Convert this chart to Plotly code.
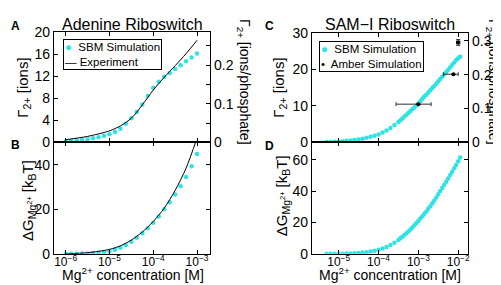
import plotly.graph_objects as go

# ---------------- data ----------------
# Panel A/B (Adenine riboswitch)
adenine_log_conc = [-6.0, -5.875, -5.75, -5.625, -5.5, -5.375, -5.25, -5.125, -5.0, -4.875,
                    -4.75, -4.625, -4.5, -4.375, -4.25, -4.125, -4.0, -3.875, -3.75, -3.625,
                    -3.5, -3.375, -3.25, -3.125, -3.0]
adenine_sbm_ions = [0.2, 0.25, 0.35, 0.45, 0.6, 0.75, 0.95, 1.2, 1.5, 1.9,
                    2.5, 3.4, 4.4, 5.5, 6.9, 8.4, 9.9, 11.0, 11.9, 12.6,
                    13.3, 14.0, 14.7, 15.4, 16.1]
adenine_sbm_dG = [0.0, 0.03, 0.07, 0.12, 0.2, 0.35, 0.5, 0.8, 1.2, 1.8,
                  2.7, 3.9, 5.4, 7.2, 9.2, 11.5, 14.0, 16.8, 20.0, 23.2,
                  26.6, 30.3, 34.5, 39.3, 44.8]
exp_log_conc = [-6.0, -5.5, -5.0, -4.75, -4.5, -4.25, -4.0, -3.75, -3.5, -3.25, -3.0]
exp_ions = [0.5, 1.1, 2.1, 3.0, 4.4, 6.8, 9.5, 11.8, 13.9, 16.1, 18.5]
exp_dG = [0.0, 0.5, 2.0, 3.6, 6.2, 9.8, 14.5, 20.5, 28.5, 38.5, 52.0]
adenine_phosphates = 70

# Panel C/D (SAM-I riboswitch)
sam_log_conc = [-5.3, -5.2, -5.1, -5.0, -4.9, -4.8, -4.7, -4.6, -4.5, -4.4,
                -4.3, -4.2, -4.1, -4.0, -3.9, -3.8, -3.7, -3.6, -3.5, -3.45,
                -3.4, -3.35, -3.3, -3.25, -3.2, -3.15, -3.1, -3.05, -3.0, -2.95,
                -2.9, -2.85, -2.8, -2.75, -2.7, -2.65, -2.6, -2.55, -2.5, -2.45,
                -2.4, -2.35, -2.3, -2.25, -2.2, -2.15, -2.1, -2.05, -2.0, -1.95]
sam_sbm_ions = [0.1, 0.15, 0.2, 0.3, 0.35, 0.45, 0.55, 0.7, 0.85, 1.05,
                1.3, 1.55, 1.85, 2.2, 2.7, 3.3, 4.0, 4.8, 5.6, 6.1,
                6.6, 7.1, 7.6, 8.1, 8.6, 9.1, 9.6, 10.1, 10.6, 11.3,
                12.0, 12.6, 13.1, 13.7, 14.3, 14.9, 15.5, 16.1, 16.8, 17.4,
                18.0, 18.7, 19.3, 19.9, 20.6, 21.3, 21.9, 22.6, 23.1, 23.5]
sam_sbm_dG = [0.0, 0.02, 0.04, 0.08, 0.13, 0.2, 0.28, 0.4, 0.55, 0.8,
              1.1, 1.5, 2.0, 2.6, 3.4, 4.4, 5.6, 7.1, 8.9, 9.9,
              10.9, 12.0, 13.1, 14.3, 15.5, 16.8, 18.2, 19.6, 21.0, 22.5,
              24.0, 25.5, 27.0, 28.7, 30.4, 32.2, 34.0, 36.0, 38.0, 40.0,
              42.0, 44.0, 46.0, 48.1, 50.2, 52.4, 54.5, 56.7, 59.0, 61.5]
amber_conc = [1.0e-3, 7.6e-3, 1.0e-2]
amber_ions = [10.5, 18.7, 27.4]
amber_err_plus = [1.09e-3, 2.4e-3, 1.0e-3]
amber_err_minus = [7.25e-4, 3.3e-3, 0.9e-3]
amber_err_y = [0.0, 0.0, 0.8]
sam_phosphates = 93

adenine_ticks = [-6, -5, -4, -3]
sam_ticks = [-5, -4, -3, -2]

# ---------------- figure ----------------
W, H = 501, 285
CYAN = "#2fe3e3"
FONT = "Liberation Sans, Arial, sans-serif"


def px(x):
    return x / W


def py(y):
    return 1 - y / H


def conc(lst):
    return [10 ** v for v in lst]


def tick_text(ticks):
    return ["10<sup>\u2212%d</sup>" % (-t) for t in ticks]


fig = go.Figure()

# A
fig.add_trace(go.Scatter(x=conc(adenine_log_conc), y=adenine_sbm_ions, mode="markers",
                         marker=dict(color=CYAN, size=4.5), name="SBM Simulation",
                         xaxis="x", yaxis="y"))
fig.add_trace(go.Scatter(x=conc(exp_log_conc), y=exp_ions, mode="lines",
                         line=dict(color="black", width=1, shape="spline", smoothing=0.8),
                         name="Experiment", xaxis="x", yaxis="y"))
# B
fig.add_trace(go.Scatter(x=conc(adenine_log_conc), y=adenine_sbm_dG, mode="markers",
                         marker=dict(color=CYAN, size=4.5), name="SBM Simulation",
                         xaxis="x2", yaxis="y3"))
fig.add_trace(go.Scatter(x=conc(exp_log_conc), y=exp_dG, mode="lines",
                         line=dict(color="black", width=1, shape="spline", smoothing=0.8),
                         name="Experiment", xaxis="x2", yaxis="y3"))
# C
fig.add_trace(go.Scatter(x=conc(sam_log_conc), y=sam_sbm_ions, mode="markers",
                         marker=dict(color=CYAN, size=4.5), name="SBM Simulation",
                         xaxis="x3", yaxis="y4"))
fig.add_trace(go.Scatter(x=amber_conc, y=amber_ions, mode="markers",
                         marker=dict(color="black", size=4), name="Amber Simulation",
                         error_x=dict(type="data", symmetric=False, array=amber_err_plus,
                                      arrayminus=amber_err_minus, color="#333", thickness=1, width=2),
                         error_y=dict(type="data", array=amber_err_y, color="#333", thickness=1, width=2),
                         xaxis="x3", yaxis="y4"))
# D
fig.add_trace(go.Scatter(x=conc(sam_log_conc), y=sam_sbm_dG, mode="markers",
                         marker=dict(color=CYAN, size=4.5), name="SBM Simulation",
                         xaxis="x4", yaxis="y6"))

# secondary (invisible) traces so right axes render
fig.add_trace(go.Scatter(x=[None], y=[None], xaxis="x", yaxis="y2", showlegend=False))
fig.add_trace(go.Scatter(x=[None], y=[None], xaxis="x3", yaxis="y5", showlegend=False))

tickfont = dict(family=FONT, size=14, color="black")
xtickfont = dict(family=FONT, size=12, color="black")
common_axis = dict(showline=True, linecolor="black", linewidth=1, ticks="inside",
                   ticklen=4, tickcolor="black", showgrid=False, zeroline=False)

xA = [46, 203]
xC = [305, 462]
yTop = [17, 134]
yTopC = [18, 134]
yBot = [134, 252]

fig.update_layout(
    width=W, height=H, margin=dict(l=0, r=0, t=0, b=0),
    paper_bgcolor="white", plot_bgcolor="white", showlegend=False,
    font=dict(family=FONT, color="black"),
    xaxis=dict(**common_axis, type="log", range=[-6.27, -2.70], domain=[px(xA[0]), px(xA[1])],
               anchor="y", mirror="ticks", tickvals=conc(adenine_ticks), showticklabels=False),
    yaxis=dict(**common_axis, tickfont=tickfont, range=[0, 20], dtick=4,
               domain=[py(yTop[1]), py(yTop[0])], anchor="x"),
    yaxis2=dict(**common_axis, tickfont=tickfont, range=[0, 20 / adenine_phosphates],
                overlaying="y", side="right",
                anchor="x", tickvals=[0, 0.05, 0.1, 0.15, 0.2, 0.25],
                ticktext=["0", "", "0.1", "", "0.2", ""]),
    xaxis2=dict(**common_axis, tickfont=xtickfont, type="log", range=[-6.27, -2.70],
                domain=[px(xA[0]), px(xA[1])], ticklabelstandoff=-3,
                anchor="y3", mirror="ticks", tickvals=conc(adenine_ticks),
                ticktext=tick_text(adenine_ticks)),
    yaxis3=dict(**common_axis, tickfont=tickfont, range=[0, 50], dtick=20,
                domain=[py(yBot[1]), py(yBot[0])], anchor="x2", mirror="ticks"),
    xaxis3=dict(**common_axis, type="log", range=[-5.675, -1.75], domain=[px(xC[0]), px(xC[1])],
                anchor="y4", mirror="ticks", tickvals=conc(sam_ticks), showticklabels=False),
    yaxis4=dict(**common_axis, tickfont=tickfont, range=[0, 30], dtick=10,
                domain=[py(yTopC[1]), py(yTopC[0])], anchor="x3"),
    yaxis5=dict(**common_axis, tickfont=tickfont, range=[0, 30 / sam_phosphates],
                overlaying="y4", side="right",
                anchor="x3", tickvals=[0, 0.1, 0.2, 0.3], ticktext=["0", "0.1", "0.2", "0.3"]),
    xaxis4=dict(**common_axis, tickfont=xtickfont, type="log", range=[-5.675, -1.75],
                domain=[px(xC[0]), px(xC[1])], ticklabelstandoff=-3,
                anchor="y6", mirror="ticks", tickvals=conc(sam_ticks),
                ticktext=tick_text(sam_ticks)),
    yaxis6=dict(**common_axis, tickfont=tickfont, range=[0, 71], dtick=20,
                domain=[py(yBot[1]), py(yBot[0])], anchor="x4", mirror="ticks"),
)

ann_font = dict(family=FONT, size=15, color="black")
xt_font = dict(family=FONT, size=14, color="black")
rfont = dict(family=FONT, size=14, color="black")
legfont = dict(family=FONT, size=11.5, color="black")
legend_a = ("<span style='color:%s'>\u25CF</span>  SBM Simulation<br>"
            "<span style='color:black'>\u2014</span> Experiment" % CYAN)
legend_c = ("<span style='color:%s'>\u25CF</span>  SBM Simulation<br>"
            "\u2022  Amber Simulation" % CYAN)
annotations = [
    dict(text="Adenine Riboswitch", x=px(125), y=py(9), font=dict(family=FONT, size=16)),
    dict(text="SAM\u2212I Riboswitch", x=px(384), y=py(9), font=dict(family=FONT, size=16)),
    dict(text="<b>A</b>", x=px(8), y=py(11), font=dict(family=FONT, size=12)),
    dict(text="<b>B</b>", x=px(8), y=py(137), font=dict(family=FONT, size=12)),
    dict(text="<b>C</b>", x=px(263), y=py(11), font=dict(family=FONT, size=12)),
    dict(text="<b>D</b>", x=px(263), y=py(138), font=dict(family=FONT, size=12)),
    dict(text="\u0393<sub>2+</sub> [ions]", x=px(16), y=py(76), textangle=-90, font=ann_font),
    dict(text="\u0393<sub>2+</sub> [ions]", x=px(273), y=py(76), textangle=-90, font=ann_font),
    dict(text="\u0393<sub>2+</sub> [ions/phosphate]", x=px(237), y=py(70), textangle=90, font=rfont),
    dict(text="\u0393<sub>2+</sub> [ions/phosphate]", x=px(487), y=py(70), textangle=90, font=rfont),
    dict(text="\u0394G<sub>Mg<sup>2+</sup></sub> [k<sub>B</sub>T]", x=px(20), y=py(195),
         textangle=-90, font=ann_font),
    dict(text="\u0394G<sub>Mg<sup>2+</sup></sub> [k<sub>B</sub>T]", x=px(275), y=py(190),
         textangle=-90, font=ann_font),
]
for a in annotations:
    a.update(xanchor="center", yanchor="middle")
annotations += [
    dict(text="Mg<sup>2+</sup> concentration [M]", x=px(125), y=py(285), xanchor="center",
         yanchor="bottom", font=xt_font),
    dict(text="Mg<sup>2+</sup> concentration [M]", x=px(384), y=py(285), xanchor="center",
         yanchor="bottom", font=xt_font),
    dict(text=legend_a, x=px(55), y=py(24), xanchor="left", yanchor="top", align="left",
         font=legfont, bordercolor="black", borderwidth=1, bgcolor="white", borderpad=1),
    dict(text=legend_c, x=px(312), y=py(26), xanchor="left", yanchor="top", align="left",
         font=legfont, bordercolor="black", borderwidth=1, bgcolor="white", borderpad=1),
]
for a in annotations:
    a.update(xref="paper", yref="paper", showarrow=False)
fig.update_layout(annotations=annotations)

fig.write_html("out.html")
